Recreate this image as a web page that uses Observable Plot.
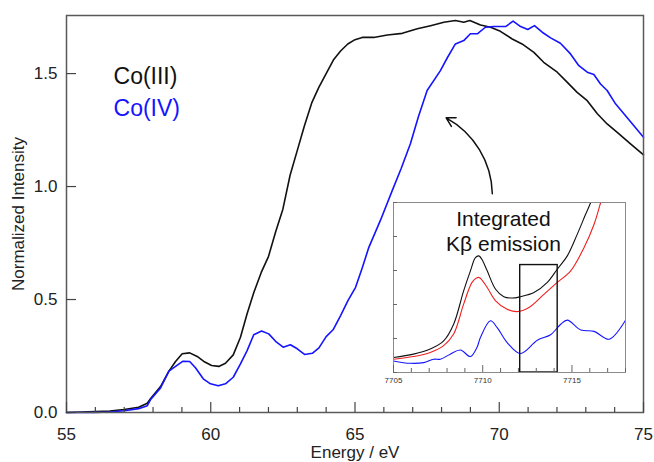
<!DOCTYPE html>
<html>
<head>
<meta charset="utf-8">
<script src="https://cdn.jsdelivr.net/npm/d3@7"></script>
<script src="https://cdn.jsdelivr.net/npm/@observablehq/plot@0.6"></script>
<style>
  body { margin: 0; background: white; }
  #wrap { position: relative; width: 654px; height: 462px; overflow: hidden; }
  #inset { position: absolute; left: 380px; top: 200px; }
</style>
</head>
<body>
<div id="wrap"><div id="main"></div><div id="inset"></div></div>
<script>
// ---------- main chart data ----------
const co3Energy = [55.0,55.5,56.0,56.5,57.0,57.5,57.8,57.91,58.26,58.55,58.78,59.01,59.27,59.53,59.76,60.03,60.28,60.51,60.78,61.03,61.26,61.49,61.75,62.0,62.25,62.5,62.75,63.0,63.25,63.5,63.75,64.0,64.25,64.5,64.75,65.0,65.25,65.65,66.12,66.64,67.16,67.62,68.08,68.48,68.77,68.98,69.35,69.7,70.04,70.45,70.79,71.2,71.54,72.01,72.36,72.7,73.05,73.4,73.74,74.09,74.55,74.96,75.0];
const co3Intensity = [0.000,0.002,0.004,0.006,0.013,0.023,0.041,0.061,0.115,0.183,0.226,0.260,0.264,0.248,0.226,0.208,0.204,0.218,0.255,0.333,0.437,0.530,0.620,0.690,0.800,0.900,1.050,1.160,1.270,1.370,1.440,1.500,1.560,1.600,1.631,1.650,1.660,1.660,1.671,1.678,1.698,1.712,1.727,1.735,1.727,1.735,1.715,1.705,1.687,1.653,1.631,1.594,1.550,1.506,1.461,1.417,1.380,1.322,1.277,1.240,1.189,1.145,1.140];

const co4Energy = [55.0,56.0,56.5,57.0,57.5,57.8,57.91,58.26,58.55,58.78,59.04,59.27,59.47,59.74,59.99,60.26,60.51,60.78,61.03,61.26,61.49,61.76,62.01,62.28,62.51,62.76,63.0,63.25,63.52,63.75,64.0,64.24,64.5,64.76,65.02,65.25,65.48,65.88,66.29,66.6,66.92,67.2,67.5,67.96,68.2,68.48,68.77,69.0,69.24,69.52,69.81,70.22,70.48,70.74,70.99,71.22,71.49,71.78,72.12,72.47,72.76,73.05,73.28,73.51,73.74,74.03,74.32,74.66,75.0];
const co4Intensity = [0.000,0.000,0.002,0.008,0.017,0.030,0.056,0.109,0.183,0.204,0.227,0.226,0.198,0.149,0.127,0.118,0.127,0.156,0.215,0.274,0.344,0.361,0.348,0.311,0.289,0.300,0.282,0.257,0.262,0.286,0.336,0.366,0.429,0.496,0.554,0.640,0.731,0.850,0.982,1.080,1.189,1.310,1.425,1.513,1.570,1.631,1.646,1.676,1.676,1.705,1.708,1.708,1.732,1.708,1.695,1.712,1.683,1.658,1.634,1.587,1.535,1.506,1.496,1.454,1.425,1.366,1.322,1.270,1.218];

const xMajorTicks = [55, 60, 65, 70, 75];
const xMinorTicks = [56,57,58,59,61,62,63,64,66,67,68,69,71,72,73,74];
const yTicks = [0, 0.5, 1.0, 1.5];
const xTitle = "Energy / eV";
const yTitle = "Normalized Intensity";
const legendLabels = ["Co(III)", "Co(IV)"];
const legendX = [56.63, 56.63];
const legendY = [1.487, 1.345];
const arrowStart = [69.76, 0.968];
const arrowEnd = [68.16, 1.304];

// ---------- inset data ----------
const insetBlackE = [7705,7706.12,7707.06,7707.81,7708.37,7708.93,7709.31,7709.59,7709.78,7709.95,7710.25,7710.72,7711.18,7711.65,7712.12,7712.87,7713.62,7714.18,7714.74,7715.3,7715.77,7716.05,7716.3];
const insetBlackI = [0.44,0.54,0.69,0.93,1.42,2.40,2.99,3.38,3.43,3.33,2.99,2.45,2.23,2.19,2.23,2.35,2.65,3.04,3.43,4.07,4.66,5.0,5.4];
const insetRedE = [7705,7706.12,7707.06,7707.81,7708.37,7708.93,7709.4,7709.68,7709.83,7710.25,7710.72,7711.37,7711.93,7712.59,7713.43,7714.18,7714.93,7715.68,7716.24,7716.61,7716.85];
const insetRedI = [0.39,0.47,0.59,0.79,1.13,2.01,2.65,2.79,2.79,2.50,2.11,1.86,1.79,1.91,2.30,2.65,2.99,3.68,4.36,5.0,5.4];
const insetBlueE = [7705,7705.94,7706.69,7707.25,7707.62,7708.18,7708.75,7709.31,7709.68,7709.87,7710.43,7710.81,7711.37,7712.12,7713.06,7713.8,7714.37,7714.74,7715.5,7716.24,7717.09,7718];
const insetBlueI = [0.34,0.27,0.29,0.39,0.39,0.54,0.66,0.47,0.74,1.03,1.52,1.32,0.88,0.56,0.95,1.11,1.42,1.54,1.25,1.21,0.98,1.54];
const insetMajorTicks = [7705, 7710, 7715];
const insetMinorTicks = [7706,7707,7708,7709,7711,7712,7713,7714,7716,7717,7718];
const insetYTicks = [0,1,2,3,4,5];
const windowBox = [{e1: 7712.1, e2: 7714.2, i1: 0, i2: 3.16}];
const insetTitle = "Integrated\nKβ emission";
const insetTitlePos = [7711.16, 4.17];

// ---------- build tables ----------
const co3 = co3Energy.map((e, i) => ({e, v: co3Intensity[i]}));
const co4 = co4Energy.map((e, i) => ({e, v: co4Intensity[i]}));
const legend = legendLabels.map((t, i) => ({t, x: legendX[i], y: legendY[i]}));
const arrows = [{x1: arrowStart[0], y1: arrowStart[1], x2: arrowEnd[0], y2: arrowEnd[1]}];
const iBlack = insetBlackE.map((e, i) => ({e, v: insetBlackI[i]}));
const iRed = insetRedE.map((e, i) => ({e, v: insetRedI[i]}));
const iBlue = insetBlueE.map((e, i) => ({e, v: insetBlueI[i]}));

const FONT = "'Liberation Sans', Arial, Helvetica, sans-serif";
const W = 654, H = 462, ML = 66, MR = 11, MT = 15, MB = 50;
const PW = W - ML - MR, PH = H - MT - MB;
const BLUE = "#1414ff";

const main = Plot.plot({
  width: W, height: H,
  marginLeft: ML, marginRight: MR, marginTop: MT, marginBottom: MB,
  x: {domain: [55, 75]},
  y: {domain: [0, 1.757]},
  style: {fontFamily: FONT, fontSize: "17px", color: "#222", background: "white"},
  marks: [
    Plot.line(co3, {x: "e", y: "v", stroke: "#111", strokeWidth: 1.6}),
    Plot.line(co4, {x: "e", y: "v", stroke: BLUE, strokeWidth: 1.6}),
    Plot.frame({stroke: "#5a5a5a", strokeWidth: 1.5}),
    Plot.tickX(xMinorTicks, {x: d => d, insetTop: PH - 5, stroke: "#444", strokeWidth: 1.2}),
    Plot.tickX(xMajorTicks, {x: d => d, insetTop: PH - 10, stroke: "#444", strokeWidth: 1.2}),
    Plot.tickY(yTicks, {y: d => d, insetRight: PW - 10, stroke: "#444", strokeWidth: 1.2}),
    Plot.axisX({ticks: xMajorTicks, tickSize: 0, tickPadding: 15, fontSize: 17, tickFormat: d3.format("d"), label: null}),
    Plot.axisY({ticks: yTicks, tickSize: 0, tickPadding: 9, fontSize: 17, tickFormat: d3.format(".1f"), label: null}),
    Plot.text([xTitle], {frameAnchor: "bottom", lineAnchor: "top", dy: 33, fontSize: 17, fill: "#222"}),
    Plot.text([yTitle], {frameAnchor: "left", textAnchor: "middle", rotate: -90, dx: -48, fontSize: 17, fill: "#222"}),
    Plot.text(legend, {x: "x", y: "y", text: "t", textAnchor: "start", fontSize: 23,
      fill: (d) => d.t === "Co(III)" ? "#111" : BLUE}),
    Plot.arrow(arrows, {x1: "x1", y1: "y1", x2: "x2", y2: "y2", bend: -30, stroke: "#111",
      strokeWidth: 1.5, headLength: 10})
  ]
});
document.getElementById("main").appendChild(main);

const IW = 232, IH = 170, IML = 13, IMR = 8, IMT = 2, IMB = 16;
const inset = Plot.plot({
  width: IML + IW + IMR, height: IMT + IH + IMB,
  marginLeft: IML, marginRight: IMR, marginTop: IMT, marginBottom: IMB,
  x: {domain: [7705, 7718]},
  y: {domain: [0, 5], axis: null},
  style: {fontFamily: FONT, background: "transparent", color: "#333"},
  marks: [
    Plot.frame({fill: "white", stroke: "none"}),
    Plot.line(iBlue, {x: "e", y: "v", stroke: BLUE, strokeWidth: 1.1, curve: "catmull-rom", clip: true}),
    Plot.line(iRed, {x: "e", y: "v", stroke: "#ee2020", strokeWidth: 1.1, curve: "catmull-rom", clip: true}),
    Plot.line(iBlack, {x: "e", y: "v", stroke: "#111", strokeWidth: 1.1, curve: "catmull-rom", clip: true}),
    Plot.rect(windowBox, {x1: "e1", x2: "e2", y1: "i1", y2: "i2", fill: "none", stroke: "#111", strokeWidth: 1.4}),
    Plot.frame({stroke: "#8a8a8a", strokeWidth: 1}),
    Plot.tickX(insetMinorTicks, {x: d => d, insetTop: IH - 4, stroke: "#666"}),
    Plot.tickX(insetMajorTicks, {x: d => d, insetTop: IH - 7, stroke: "#666"}),
    Plot.tickY(insetYTicks, {y: d => d, insetRight: IW - 4, stroke: "#666"}),
    Plot.axisX({ticks: insetMajorTicks, tickSize: 0, tickPadding: 5, fontSize: 8, tickFormat: d3.format("d"), label: null}),
    Plot.text([insetTitle], {x: insetTitlePos[0], y: insetTitlePos[1], text: d => d, fontSize: 21,
      lineHeight: 1.2, textAnchor: "middle", fill: "#111"})
  ]
});
document.getElementById("inset").appendChild(inset);
</script>
</body>
</html>
